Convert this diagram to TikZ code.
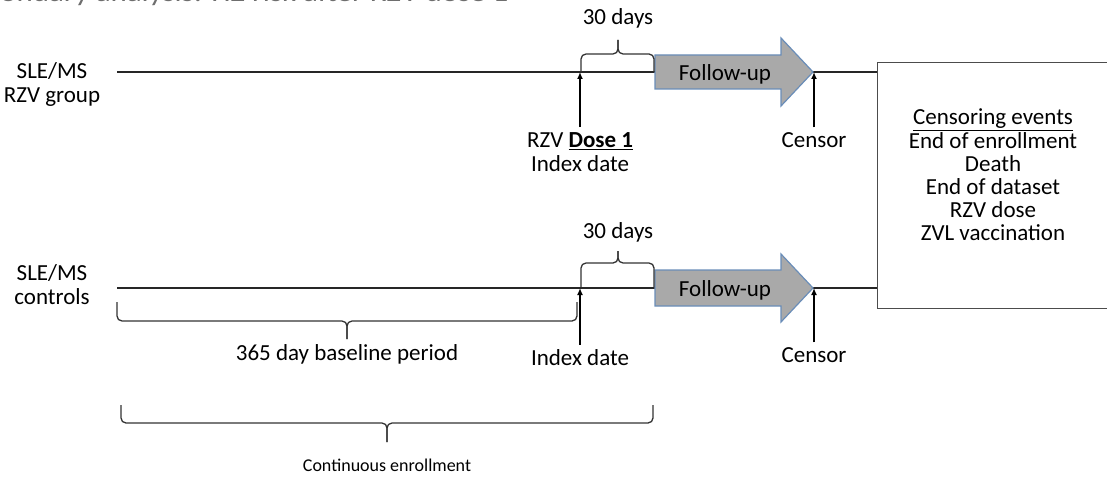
\documentclass[tikz,border=0pt]{standalone}
\usepackage{fontspec}
\setmainfont{Carlito}
\usetikzlibrary{arrows.meta}
\definecolor{fugray}{HTML}{A9A9A9}
\definecolor{fublue}{HTML}{6A8DB8}
\definecolor{titlegray}{HTML}{6E6E6E}
\begin{document}
\begin{tikzpicture}[x=1pt,y=-1pt,
  lbl/.style={inner sep=0pt,align=center,font=\fontsize{23}{24}\selectfont},
  tline/.style={line width=1.3pt,draw=black!85},
  bracel/.style={line width=1.3pt,draw=black!80,rounded corners=5pt},
  uparrow/.style={line width=1.5pt,shorten <=5pt,-{Latex[length=7pt,width=6pt]}},
  fuarrow/.style={fill=fugray,draw=fublue,line width=1.2pt}]
  \useasboundingbox (0,0) rectangle (1107,476);
  % title, cut at the top of the slide
  \node[anchor=base west,inner sep=0pt,text=titlegray,font=\fontsize{26}{30}\selectfont,
    xscale=1.19,transform shape]
    (title) at (0,2) {\llap{Sec}ondary analysis: HZ risk after RZV dose 1};
  % censoring box
  \node[draw=black!70,line width=1.3pt,anchor=north west,inner sep=0pt,
    minimum width=240pt,minimum height=246pt] (cens) at (877,62) {};
  \node[lbl,font=\fontsize{23}{23.2}\selectfont] (censtxt) at (993,175)
    {\underline{Censoring events}\\End of enrollment\\Death\\End of dataset\\RZV dose\\ZVL vaccination};
  % time lines
  \coordinate (rowA) at (117,72);
  \coordinate (rowB) at (117,288);
  \draw[tline] (rowA) -- (rowA -| cens.west);
  \draw[tline] (rowB) -- (rowB -| cens.west);
  \node[lbl] (grpA) at (52,84) {SLE/MS\\RZV group};
  \node[lbl] (grpB) at (52,285) {SLE/MS\\controls};
  % follow-up arrows
  \draw[fuarrow] (655,55) -- (781,55) -- (781,38) -- (813,72) -- (781,106) -- (781,89) -- (655,89) -- cycle;
  \draw[fuarrow] (655,270) -- (781,270) -- (781,254) -- (813,288) -- (781,322) -- (781,306) -- (655,306) -- cycle;
  \node[lbl] (fuA) at (725,74) {Follow-up};
  \node[lbl] (fuB) at (725,290) {Follow-up};
  % 30 day braces
  \node[lbl] (daysA) at (618,18) {30 days};
  \node[lbl] (daysB) at (618,232) {30 days};
  \draw[bracel] (581,72) -- (581,54) -- (618,54) -- (618,40);
  \draw[bracel] (654,72) -- (654,54) -- (618,54) -- (618,40);
  \draw[bracel] (581,287) -- (581,263) -- (618,263) -- (618,251);
  \draw[bracel] (654,287) -- (654,263) -- (618,263) -- (618,251);
  % index and censor marks
  \coordinate (idxA) at (580,72);
  \coordinate (cenA) at (814,72);
  \coordinate (idxB) at (580,288);
  \coordinate (cenB) at (814,288);
  \node[lbl] (doseA) at (580,152) {RZV \underline{\textbf{Dose 1}}\\Index date};
  \node[lbl] (censorA) at (814,140) {Censor};
  \node[lbl] (indexB) at (580,358) {Index date};
  \node[lbl] (censorB) at (814,355) {Censor};
  \draw[uparrow] (doseA.north) -- (idxA);
  \draw[uparrow] (censorA.north) -- (cenA);
  \draw[uparrow] (indexB.north) -- (idxB);
  \draw[uparrow] (censorB.north) -- (cenB);
  % baseline and enrollment braces
  \draw[bracel] (117,302) -- (117,321) -- (347,321) -- (347,339);
  \draw[bracel] (577,302) -- (577,321) -- (347,321) -- (347,339);
  \node[lbl] (base) at (347,354) {365 day baseline period};
  \draw[bracel] (121,405) -- (121,423) -- (387,423) -- (387,442);
  \draw[bracel] (653,405) -- (653,423) -- (387,423) -- (387,442);
  \node[lbl,font=\fontsize{18}{20}\selectfont] (contin) at (387,465) {Continuous enrollment};
\end{tikzpicture}
\end{document}
